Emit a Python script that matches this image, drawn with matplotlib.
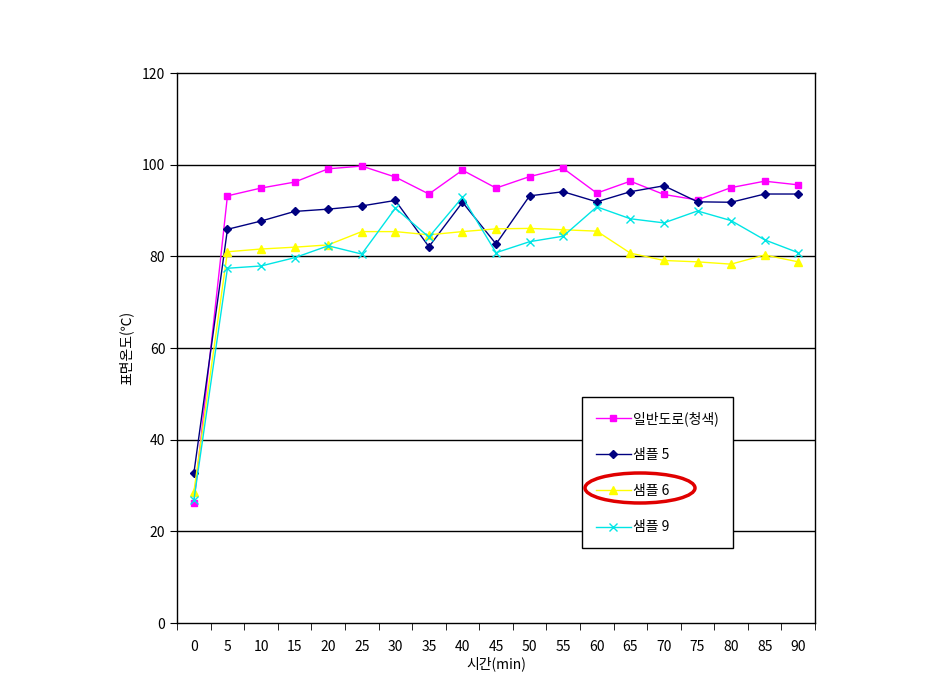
import numpy as np
import matplotlib.pyplot as plt
from matplotlib.patches import Ellipse

plt.rcParams['font.family'] = ['Noto Sans CJK KR', 'DejaVu Sans']

times = ['0', '5', '10', '15', '20', '25', '30', '35', '40', '45',
         '50', '55', '60', '65', '70', '75', '80', '85', '90']
road = [26.2, 93.2, 94.9, 96.2, 99.1, 99.7, 97.3, 93.6, 98.8, 94.9,
        97.4, 99.2, 93.8, 96.4, 93.5, 92.3, 95.0, 96.4, 95.6]
s5 = [32.7, 85.9, 87.7, 89.8, 90.3, 91.0, 92.2, 82.1, 91.8, 82.7,
      93.2, 94.1, 91.9, 94.1, 95.4, 91.9, 91.8, 93.6, 93.6]
s6 = [28.6, 81.0, 81.6, 82.0, 82.5, 85.4, 85.4, 84.7, 85.4, 86.0,
      86.1, 85.8, 85.5, 80.7, 79.1, 78.8, 78.3, 80.3, 78.8]
s9 = [26.8, 77.4, 77.9, 79.7, 82.3, 80.5, 90.5, 84.2, 92.9, 80.8,
      83.2, 84.4, 90.8, 88.2, 87.3, 89.9, 87.8, 83.6, 80.8]

fig = plt.figure(figsize=(9.32, 6.85), dpi=100)
ax = fig.add_axes([0.190, 0.0905, 0.6845, 0.8029])

x = np.arange(len(times))
ax.plot(x, road, color='#ff00ff', marker='s', ms=5, lw=1, label='일반도로(청색)')
ax.plot(x, s5, color='#000080', marker='D', ms=4.5, lw=1, label='샘플 5')
ax.plot(x, s6, color='#ffff00', marker='^', ms=6, lw=1, label='샘플 6')
ax.plot(x, s9, color='#00e5e5', marker='x', ms=6, mew=1, lw=1, label='샘플 9')

ax.set_xlim(-0.5, len(times) - 0.5)
ax.set_ylim(0, 120)
ax.set_yticks(range(0, 121, 20))
for v in range(20, 120, 20):
    ax.axhline(v, color='black', lw=1, zorder=0)
ax.set_xticks(x)
ax.set_xticklabels(times)
ax.set_xticks(np.arange(-0.5, len(times)), minor=True)
ax.tick_params(axis='x', which='major', length=0, pad=12, labelsize=10)
ax.tick_params(axis='x', which='minor', length=5, direction='out')
ax.tick_params(axis='y', length=5, direction='out', labelsize=10)
for s in ax.spines.values():
    s.set_linewidth(1)
ax.set_xlabel('시간(min)', fontsize=10, labelpad=2)
ax.set_ylabel('표면온도(℃)', fontsize=10, labelpad=6)

leg = ax.legend(loc='upper left', bbox_to_anchor=(582 / 932, 1 - 397 / 685),
                bbox_transform=fig.transFigure, borderaxespad=0,
                fancybox=False, edgecolor='black', framealpha=1,
                fontsize=10, labelspacing=1.6, handlelength=2.5,
                handletextpad=0.2, borderpad=1.0, markerscale=0.9)
leg.get_frame().set_linewidth(1)

fig.patches.append(Ellipse((640 / 932, 1 - 488 / 685), 110 / 932, 30 / 685,
                           transform=fig.transFigure, fill=False,
                           edgecolor='#e00000', lw=2.5))

fig.savefig('out.png')
